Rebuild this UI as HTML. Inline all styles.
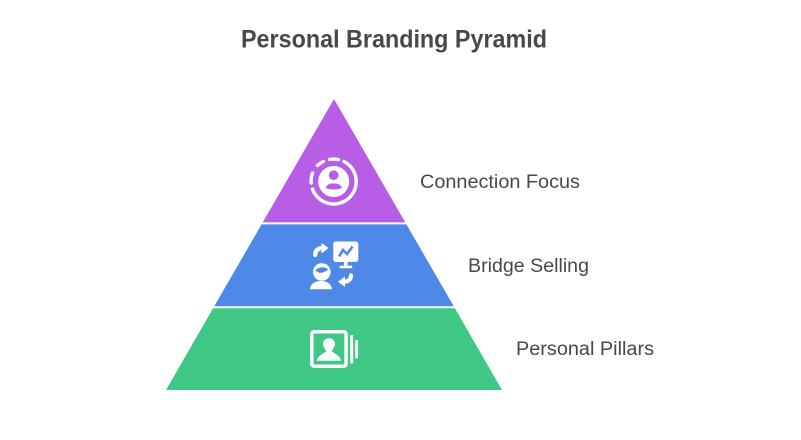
<!DOCTYPE html>
<html>
<head>
<meta charset="utf-8">
<style>
html,body{margin:0;padding:0;background:#fff}
svg{display:block}
text{font-family:"Liberation Sans",sans-serif;fill:#484848}
</style>
</head>
<body>
<svg width="801" height="440" viewBox="0 0 801 440" xmlns="http://www.w3.org/2000/svg">
<rect width="801" height="440" fill="#fff"/>
<text x="394" y="47.5" font-size="25" font-weight="700" text-anchor="middle" textLength="306" lengthAdjust="spacingAndGlyphs">Personal Branding Pyramid</text>

<polygon points="334,99 405.3,222.4 262.7,222.4" fill="#b75de6"/>
<polygon points="261.6,224.4 406.4,224.4 453.8,306.3 214.2,306.3" fill="#4e89e8"/>
<polygon points="213.1,308.3 454.9,308.3 502,390 166,390" fill="#3ec785"/>

<!-- Connection icon -->
<g fill="none" stroke="#fff" stroke-linecap="round" stroke-width="3.4">
  <path d="M344 161.5 A22.5 22.5 0 1 1 312.5 189"/>
  <path d="M311.2 183 A22.5 22.5 0 0 1 312.6 173"/>
  <path d="M317.5 165.5 A22.5 22.5 0 0 1 323.5 161.5"/>
  <path d="M329.5 159.4 A22.5 22.5 0 0 1 338.5 159.6"/>
</g>
<circle cx="333.7" cy="181.5" r="15.5" fill="#fff"/>
<circle cx="333.7" cy="175.2" r="4.8" fill="#b75de6"/>
<path d="M325.8 188 C326.5 181.8 341 181.8 341.8 188 C338.5 190 329 190 325.8 188Z" fill="#b75de6"/>

<!-- Bridge icon -->
<rect x="333.3" y="241.5" width="25" height="20.5" rx="2.5" fill="#fff"/>
<rect x="344" y="261" width="3.6" height="6" fill="#fff"/>
<rect x="339.5" y="265.6" width="12.8" height="2.6" rx="1" fill="#fff"/>
<path d="M339 256.5 L343 250 L347 254 L352.5 246.5" fill="none" stroke="#4e89e8" stroke-width="2.6"/>
<path d="M315.2 255 C315.2 250 318.5 248 322.5 248" fill="none" stroke="#fff" stroke-width="4.2" stroke-linecap="round"/>
<polygon points="321.5,243 328.5,248 321.5,253.5" fill="#fff"/>
<path d="M351 275.5 C351 279.5 348.5 281.7 344 281.7" fill="none" stroke="#fff" stroke-width="4.2" stroke-linecap="round"/>
<polygon points="345,276.5 338,281.7 345,287" fill="#fff"/>
<circle cx="321.8" cy="272" r="8.8" fill="#fff"/>
<path d="M315.5 270.5 C318.5 274 324 273.5 328 269.5 C326 266.5 318 266.5 315.5 270.5Z" fill="#4e89e8"/>
<path d="M310 289.3 C310 284 315 281 321 281 C327 281 331.8 284 331.8 289.3 Z" fill="#fff"/>

<!-- Pillars icon -->
<rect x="311.8" y="331.8" width="34.3" height="34.4" rx="2.5" fill="none" stroke="#fff" stroke-width="3.5"/>
<path d="M316.8 360.7 C318 354.5 325.5 353.5 326.3 350.5 C324.3 348.5 323 346 323 343.7 C323 340.3 325.8 338.3 329 338.3 C332.2 338.3 335 340.3 335 343.7 C335 346 333.7 348.5 331.7 350.5 C332.5 353.5 340 354.5 341 360.7Z" fill="#fff"/>
<rect x="350.2" y="335" width="3" height="28.5" rx="1" fill="#fff"/>
<rect x="355.2" y="340" width="2.9" height="18.5" rx="1" fill="#fff"/>

<text x="420" y="188" font-size="19" textLength="160" lengthAdjust="spacingAndGlyphs">Connection Focus</text>
<text x="468" y="272" font-size="19" textLength="121" lengthAdjust="spacingAndGlyphs">Bridge Selling</text>
<text x="516" y="355" font-size="19" textLength="138" lengthAdjust="spacingAndGlyphs">Personal Pillars</text>
</svg>
</body>
</html>
